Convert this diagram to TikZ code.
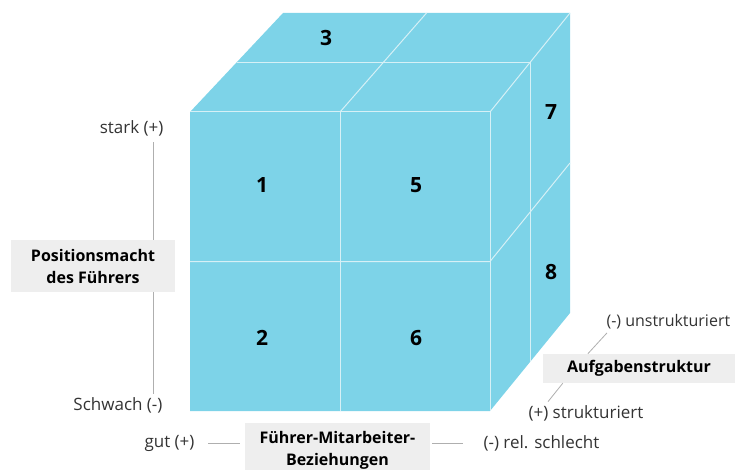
\documentclass[tikz,border=0pt]{standalone}
\usepackage{fontspec}
\setmainfont{Open Sans}
\usetikzlibrary{positioning,calc}

\definecolor{cubeblue}{RGB}{125,211,232}
\definecolor{seamline}{RGB}{214,240,246}
\definecolor{tagfill}{RGB}{238,238,238}
\definecolor{axisgray}{RGB}{175,175,175}

\begin{document}
\begin{tikzpicture}[x=1pt, y=-1pt,
  seam/.style={draw=seamline, line width=1pt},
  num/.style={font=\fontsize{21}{24}\selectfont\bfseries},
  tag/.style={fill=tagfill, align=center, inner sep=2pt,
    font=\fontsize{16}{22}\selectfont\bfseries},
  pole/.style={font=\fontsize{17}{19}\selectfont, text=black!80},
  axis/.style={draw=axisgray, line width=0.8pt}
]
  \useasboundingbox (0,0) rectangle (735,470);

  % cube corners
  \coordinate (A) at (190,112);
  \coordinate (B) at (490,112);
  \coordinate (C) at (490,411);
  \coordinate (D) at (190,411);
  \coordinate (E) at (283,13);
  \coordinate (F) at (570,13);
  \coordinate (G) at (570,313);

  \fill[cubeblue] (D) -- (A) -- (E) -- (F) -- (G) -- (C) -- cycle;

  % seams between the eight cells
  \draw[seam] (A) -- (B) -- (C);
  \draw[seam] (B) -- (F);
  \draw[seam] ($(A)!.5!(B)$) -- ($(D)!.5!(C)$);
  \draw[seam] ($(A)!.5!(B)$) -- ($(E)!.5!(F)$);
  \draw[seam] ($(A)!.5!(D)$) -- ($(B)!.5!(C)$) -- ($(F)!.5!(G)$);
  \draw[seam] ($(A)!.5!(E)$) -- ($(B)!.5!(F)$) -- ($(C)!.5!(G)$);

  \node[num] (n1) at (262,185) {1};
  \node[num] (n2) at (262,338) {2};
  \node[num] (n3) at (326,38) {3};
  \node[num] (n5) at (416,185) {5};
  \node[num] (n6) at (416,338) {6};
  \node[num] (n7) at (551,112) {7};
  \node[num] (n8) at (551,272) {8};

  % position power
  \node[tag, minimum width=164, minimum height=52] (power) at (93,266)
    {Positionsmacht\\des Führers};
  \node[pole, anchor=east] (strong) at (167,128) {stark (+)};
  \node[pole, anchor=east] (weak) at (166,405) {Schwach (-)};
  \coordinate (ax) at (153,0);
  \draw[axis, shorten <=3pt] (strong.south -| ax) -- (power.north -| ax);
  \draw[axis] (power.south -| ax) -- (weak.north -| ax);

  % leader-member relations
  \node[tag, minimum width=185, minimum height=54] (rel) at (337.5,450)
    {Führer-Mitarbeiter-\\Beziehungen};
  \node[pole, anchor=east] (good) at (198,443) {gut (+)};
  \node[pole, anchor=west] (bad) at (480,443) {(-) rel. schlecht};
  \draw[axis, shorten <=10pt, shorten >=5pt] (good) -- (good -| rel.west);
  \draw[axis, shorten <=2pt, shorten >=17pt] (bad -| rel.east) -- (bad);

  % task structure
  \node[tag, minimum width=192, minimum height=29] (task) at (639,368.5)
    {Aufgabenstruktur};
  \node[pole, anchor=west, font=\fontsize{16}{19}\selectfont] (unstr)
    at (603,322) {(-) unstrukturiert};
  \node[pole, anchor=west] (str) at (525,413) {(+) strukturiert};
  \draw[axis] ([xshift=4pt]unstr.south west) -- ([xshift=45pt]task.north west);
  \draw[axis] ([xshift=20pt]task.south west) -- ([xshift=23pt]str.north west);
\end{tikzpicture}
\end{document}
